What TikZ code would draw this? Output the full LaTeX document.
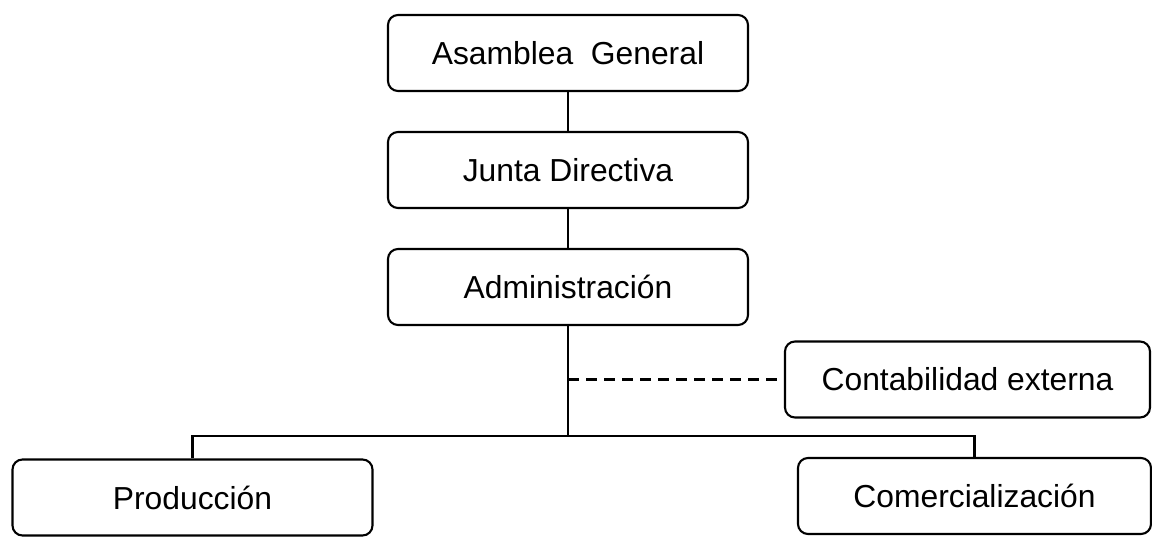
\documentclass[tikz,border=0pt]{standalone}
\usepackage{fontspec}
\setmainfont{Liberation Sans}
\usepackage{tikz}

\begin{document}
\begin{tikzpicture}[node distance=2.34cm, line width=1.2pt,
  box/.style={draw, rounded corners=0.2cm, minimum width=7.2cm, minimum height=1.52cm, font=\fontsize{18.1}{22}\selectfont}]
\useasboundingbox (0,0) rectangle (23.04,-11);
\node  (1)[box] at (11.36,-1.06) {Asamblea\ \ General};
\node  (2)[box] [below of = 1] {Junta Directiva};
\node  (3)[box] [below of = 2] {Administraci\'on};
\node  (4)[box, minimum width=7.3cm] at (19.35,-7.59) {Contabilidad externa};
\node  (5)[box] at (3.85,-9.95) {Producci\'on};
\node  (6)[box, minimum width=7.06cm] at (19.49,-9.92) {Comercializaci\'on};
\coordinate (j) at (11.36,-8.72);
\draw (1) -- (2);
\draw (2) -- (3);
\draw (3) -- (j);
\draw (5) |- (j) -| (6);
\draw[dash pattern=on 0.22cm off 0.14cm] (3 |- 4) -- (4);
\end{tikzpicture}
\end{document}
